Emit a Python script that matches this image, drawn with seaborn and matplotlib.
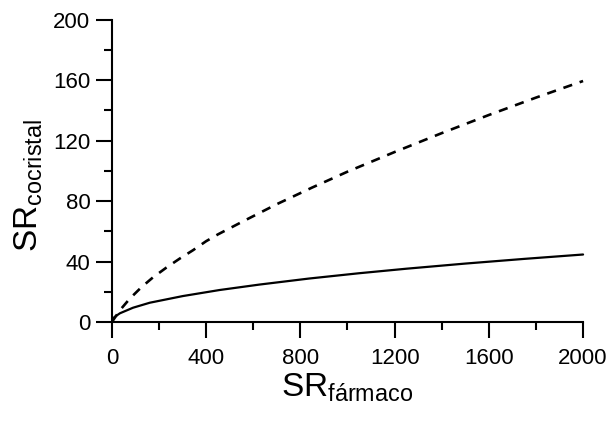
import matplotlib
matplotlib.use('Agg')
import matplotlib.pyplot as plt
from matplotlib.ticker import MultipleLocator
import numpy as np
import pandas as pd
import seaborn as sns

# values
sr_drug_solid = [0, 10, 34, 90, 161, 301, 457, 626, 837, 1049, 1250, 1500, 1750, 2000]
sr_cocrystal_solid = [0, 3.2, 5.8, 9.5, 12.8, 17.2, 21.2, 24.8, 28.8, 32.3, 35.3, 38.7, 41.8, 44.7]

sr_drug_dashed = [0, 34, 76, 125, 174, 231, 288, 344, 400, 450, 555, 700, 850, 1000,
                  1200, 1400, 1600, 1800, 2000]
sr_cocrystal_dashed = [0, 7.8, 15.5, 23, 29.5, 36, 42, 47.5, 53.5, 58, 66.5, 78, 89, 99.5,
                       112.5, 125, 137, 148.5, 159.5]

x_label = 'SR$_{\\mathrm{fármaco}}$'
y_label = 'SR$_{\\mathrm{cocristal}}$'

sns.set_style('ticks')
plt.rcParams['font.family'] = ['Liberation Sans', 'DejaVu Sans']
plt.rcParams['mathtext.fontset'] = 'custom'
plt.rcParams['mathtext.rm'] = 'Liberation Sans'
plt.rcParams['mathtext.it'] = 'Liberation Sans'
plt.rcParams['text.color'] = 'black'
plt.rcParams['axes.labelcolor'] = 'black'
plt.rcParams['xtick.color'] = 'black'
plt.rcParams['ytick.color'] = 'black'

solid = pd.DataFrame({'x': sr_drug_solid, 'y': sr_cocrystal_solid})
dashed = pd.DataFrame({'x': sr_drug_dashed, 'y': sr_cocrystal_dashed})

fig = plt.figure(figsize=(6.08, 4.21), dpi=100)
ax = fig.add_axes([0.184, 0.235, 0.775, 0.718])

sns.lineplot(data=solid, x='x', y='y', ax=ax, color='black', lw=1.6, clip_on=False)
sns.lineplot(data=dashed, x='x', y='y', ax=ax, color='black', lw=1.9,
             dashes=False, linestyle=(0, (3.5, 3)), clip_on=False)

ax.set_xlim(0, 2000)
ax.set_ylim(0, 200)
ax.xaxis.set_major_locator(MultipleLocator(400))
ax.xaxis.set_minor_locator(MultipleLocator(200))
ax.yaxis.set_major_locator(MultipleLocator(40))
ax.yaxis.set_minor_locator(MultipleLocator(20))

for side in ['top', 'right']:
    ax.spines[side].set_visible(False)
for side in ['left', 'bottom']:
    ax.spines[side].set_linewidth(1.5)
    ax.spines[side].set_color('black')

ax.tick_params(which='major', length=11.5, width=1.5, labelsize=16, pad=4,
               colors='black', direction='out')
ax.tick_params(axis='x', which='major', pad=7)
ax.tick_params(which='minor', length=6, width=1.5, color='black', direction='out')

ax.set_xlabel(x_label, fontsize=24, labelpad=2)
ax.set_ylabel(y_label, fontsize=24, labelpad=6)
ax.yaxis.label.set_y(0.45)

plt.savefig('out.png', dpi=100)
